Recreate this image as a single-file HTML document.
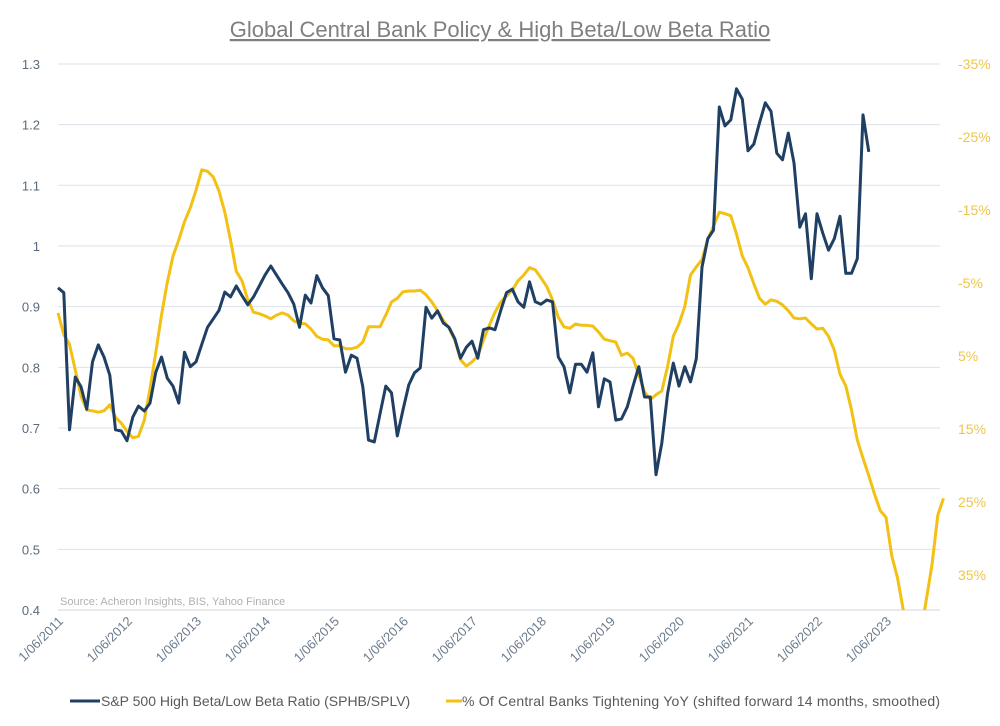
<!DOCTYPE html>
<html><head><meta charset="utf-8"><style>
body{margin:0;background:#fff;}
svg{display:block;font-family:"Liberation Sans",sans-serif;}
</style></head><body>
<svg id="chart" width="1000" height="726" viewBox="0 0 1000 726">
<text x="500" y="37" text-anchor="middle" font-size="22" fill="#7f7f7f" text-decoration="underline">Global Central Bank Policy &amp; High Beta/Low Beta Ratio</text>
<defs><clipPath id="plotclip"><rect x="40" y="50" width="910" height="560"/></clipPath></defs>
<g id="grid"></g><g id="lines" clip-path="url(#plotclip)"></g><g id="axes"></g>
<text x="60" y="605" font-size="11" fill="#b0b0b0">Source: Acheron Insights, BIS, Yahoo Finance</text>
<g>
<line x1="70" y1="701" x2="100" y2="701" stroke="#1f3f63" stroke-width="3"/>
<text x="101" y="706" font-size="14" fill="#595959">S&amp;P 500 High Beta/Low Beta Ratio (SPHB/SPLV)</text>
<line x1="446" y1="701" x2="462" y2="701" stroke="#f2c114" stroke-width="3"/>
<text x="462" y="706" font-size="14" fill="#595959" textLength="478">% Of Central Banks Tightening YoY (shifted forward 14 months, smoothed)</text>
</g>
</svg>
<script>
const leftTicks=[0.4,0.5,0.6,0.7,0.8,0.9,1,1.1,1.2,1.3];
const rightTicks=[-35,-25,-15,-5,5,15,25,35];
const yearLabels=["1/06/2011","1/06/2012","1/06/2013","1/06/2014","1/06/2015","1/06/2016","1/06/2017","1/06/2018","1/06/2019","1/06/2020","1/06/2021","1/06/2022","1/06/2023"];
const ratio=[0.931,0.923,0.697,0.784,0.768,0.731,0.809,0.837,0.817,0.787,0.697,0.695,0.679,0.718,0.736,0.728,0.741,0.792,0.817,0.782,0.769,0.741,0.825,0.801,0.809,0.838,0.866,0.880,0.894,0.924,0.916,0.934,0.918,0.903,0.916,0.934,0.952,0.967,0.952,0.937,0.923,0.904,0.866,0.919,0.906,0.951,0.931,0.918,0.847,0.845,0.792,0.820,0.815,0.768,0.680,0.677,0.723,0.769,0.758,0.687,0.730,0.771,0.791,0.799,0.899,0.881,0.893,0.873,0.866,0.847,0.815,0.833,0.843,0.815,0.862,0.865,0.862,0.894,0.923,0.929,0.908,0.899,0.941,0.908,0.904,0.911,0.908,0.817,0.801,0.758,0.805,0.805,0.792,0.824,0.735,0.781,0.776,0.713,0.715,0.735,0.769,0.801,0.751,0.751,0.623,0.675,0.756,0.807,0.769,0.801,0.776,0.814,0.965,1.012,1.026,1.229,1.198,1.208,1.259,1.242,1.157,1.168,1.203,1.236,1.222,1.153,1.142,1.186,1.137,1.031,1.053,0.946,1.053,1.021,0.993,1.012,1.049,0.955,0.955,0.979,1.216,1.155];
const tightening=[-0.9,2.1,3.4,6.9,10.5,12.4,12.5,12.7,12.5,11.7,13.4,14.2,15.3,16.2,16.0,13.8,9.5,4.5,-0.6,-5.1,-8.7,-10.9,-13.4,-15.3,-17.7,-20.5,-20.3,-19.5,-17.6,-14.7,-10.9,-6.6,-5.3,-2.7,-1.0,-0.8,-0.5,-0.1,-0.6,-0.9,-0.6,0.2,0.5,0.6,1.3,2.3,2.7,2.8,3.6,3.6,4.0,4.0,3.8,3.1,1.0,1.0,1.0,-0.6,-2.4,-2.9,-3.8,-3.9,-3.9,-4.0,-3.4,-2.4,-1.2,0.1,1.2,2.8,5.5,6.4,5.8,5.0,2.8,0.8,-1.0,-2.4,-3.2,-4.0,-5.3,-6.1,-7.1,-6.8,-5.7,-4.5,-2.7,-0.3,1.0,1.2,0.6,0.8,0.8,0.9,1.7,2.7,2.9,3.1,4.9,4.6,5.3,7.6,9.9,11.0,10.3,9.8,6.5,2.3,0.6,-1.8,-6.1,-7.2,-8.2,-11.0,-12.8,-14.7,-14.5,-14.2,-11.7,-8.7,-7.1,-4.9,-2.9,-2.1,-2.7,-2.5,-2.0,-1.2,-0.2,-0.1,-0.2,0.6,1.3,1.2,2.3,4.2,7.5,9.1,12.4,16.5,19.0,21.4,23.9,26.2,27.1,32.4,35.4,39.8,43.2,44.6,43.2,38.4,33.6,26.8,24.5];
const NS="http://www.w3.org/2000/svg";
const X0=58, MONTH=5.75, PL=58, PR=940;
function xPos(i){return X0+i*MONTH;}
function yLeft(v){return 610-(v-0.4)*606.7;}
function yRight(v){return 64+(v+35)*7.3;}
function mk(tag,attrs,parent){const e=document.createElementNS(NS,tag);for(const k in attrs)e.setAttribute(k,attrs[k]);parent.appendChild(e);return e;}
const grid=document.getElementById('grid'),lines=document.getElementById('lines'),axes=document.getElementById('axes');
leftTicks.forEach(function(t){
  const y=yLeft(t);
  const g=mk('line',{x1:PL,x2:PR,y1:y,y2:y,stroke:t===0.4?'#d0d5db':'#dde3ea','stroke-width':1},grid);
  
  
  const tx=mk('text',{x:40,y:y+5,'text-anchor':'end','font-size':13,fill:'#5a6a7c'},axes);
  tx.textContent=String(t);
  
  
});
rightTicks.forEach(function(t){
  const y=yRight(t);
  const tx=mk('text',{x:958,y:y+5,'font-size':14,fill:'#ecc64a'},axes);
  tx.textContent=t+'%';
  
  
});
yearLabels.forEach(function(l,k){
  const x=xPos(k*12)+6, y=622;
  const tx=mk('text',{x:x,y:y,'text-anchor':'end','font-size':13,fill:'#6b7b8c',transform:'rotate(-45 '+x+' '+y+')'},axes);
  tx.textContent=l;
  
  
});
function path(arr,yf){return arr.map(function(v,i){return (i?'L':'M')+xPos(i).toFixed(1)+','+yf(v).toFixed(1);}).join('');}
const py=mk('path',{d:path(tightening,yRight),fill:'none',stroke:'#f2c114','stroke-width':3,'stroke-linejoin':'round'},lines);


const pb=mk('path',{d:path(ratio,yLeft),fill:'none',stroke:'#1f3f63','stroke-width':3,'stroke-linejoin':'round'},lines);


</script>
</body></html>
